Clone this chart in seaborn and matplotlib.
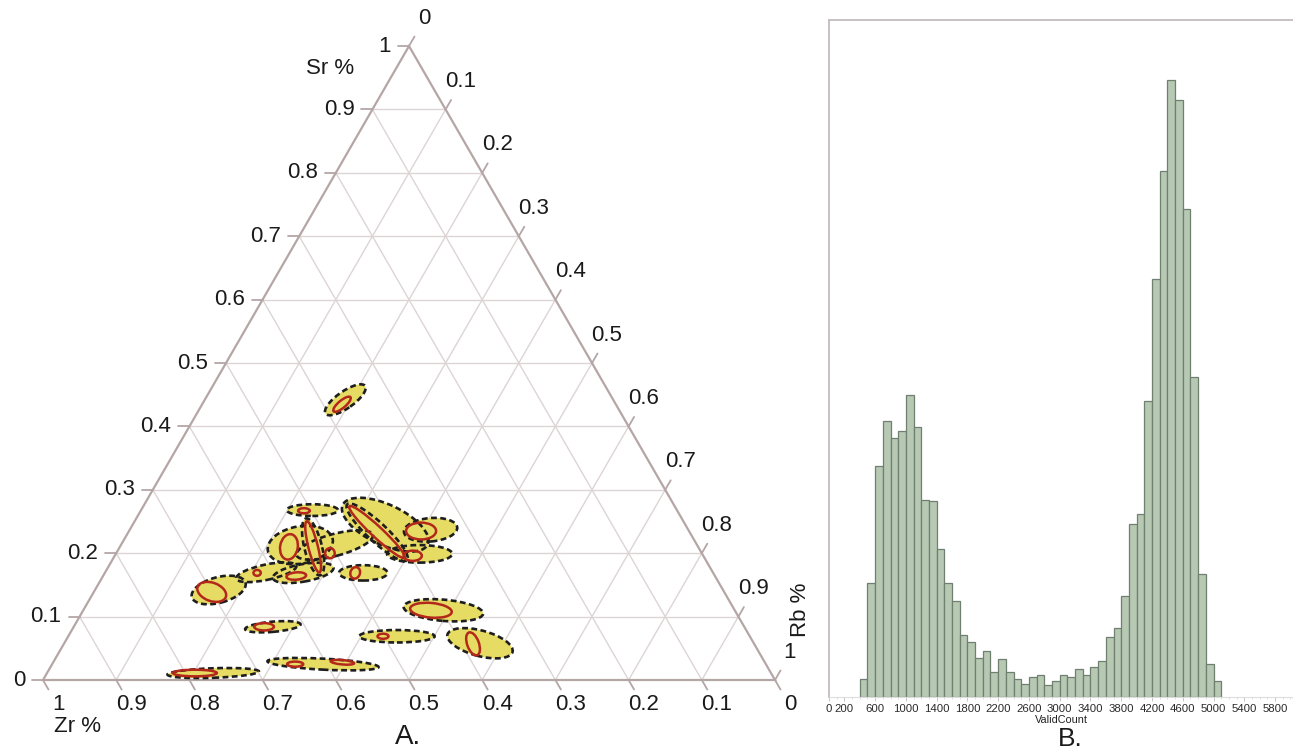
import numpy as np
import pandas as pd
import matplotlib
matplotlib.use("Agg")
import matplotlib.pyplot as plt
from matplotlib.patches import Ellipse, Polygon
import seaborn as sns

# ---------------- data ----------------
# Panel A: confidence ellipses on the Sr-Rb-Zr ternary (centre given as Sr, Zr fractions;
# Rb = 1 - Sr - Zr; width/height in units of the triangle side, angle in degrees)
outer_sr = [0.442, 0.268, 0.213, 0.210, 0.245, 0.233, 0.213, 0.237, 0.199, 0.142, 0.170,
            0.169, 0.169, 0.110, 0.084, 0.069, 0.058, 0.025, 0.011]
outer_zr = [0.366, 0.498, 0.542, 0.526, 0.410, 0.427, 0.495, 0.352, 0.386, 0.689, 0.610,
            0.560, 0.478, 0.398, 0.644, 0.482, 0.374, 0.605, 0.762]
outer_w = [0.066, 0.070, 0.090, 0.080, 0.128, 0.112, 0.108, 0.073, 0.089, 0.076, 0.084,
           0.084, 0.066, 0.109, 0.076, 0.103, 0.092, 0.152, 0.125]
outer_h = [0.023, 0.016, 0.051, 0.024, 0.055, 0.026, 0.030, 0.032, 0.024, 0.035, 0.021,
           0.024, 0.021, 0.029, 0.014, 0.017, 0.035, 0.015, 0.013]
outer_ang = [35, 0, 10, 104, -25, -43, 15, 5, 0, 15, 12, 10, 0, -5, 5, 0, -15, -3, 2]

inner_sr = [0.435, 0.267, 0.210, 0.210, 0.2335, 0.200, 0.235, 0.196, 0.139, 0.169,
            0.164, 0.169, 0.110, 0.084, 0.069, 0.057, 0.025, 0.028, 0.011]
inner_zr = [0.374, 0.510, 0.559, 0.526, 0.427, 0.508, 0.366, 0.397, 0.700, 0.623,
            0.572, 0.489, 0.415, 0.656, 0.501, 0.384, 0.643, 0.577, 0.787]
inner_w = [0.030, 0.016, 0.035, 0.072, 0.103, 0.013, 0.041, 0.025, 0.041, 0.010,
           0.027, 0.016, 0.057, 0.027, 0.015, 0.033, 0.022, 0.032, 0.060]
inner_h = [0.010, 0.007, 0.024, 0.013, 0.015, 0.014, 0.023, 0.014, 0.025, 0.008,
           0.010, 0.013, 0.020, 0.010, 0.007, 0.016, 0.007, 0.006, 0.009]
inner_ang = [40, 0, 80, 104, -43, 0, 0, 0, -20, 0, 5, 70, -5, 0, 0, 110, 0, -5, 0]

tick_vals = [0.0, 0.1, 0.2, 0.3, 0.4, 0.5, 0.6, 0.7, 0.8, 0.9, 1.0]
tick_text = ["0", "0.1", "0.2", "0.3", "0.4", "0.5", "0.6", "0.7", "0.8", "0.9", "1"]

# Panel B: histogram of ValidCount, bins of 100 starting at 400
bin_start = list(range(400, 5100, 100))
bin_count = [29, 185, 375, 448, 419, 431, 489, 437, 320, 317,
             240, 185, 155, 100, 89, 64, 74, 41, 61, 41,
             29, 21, 32, 36, 20, 26, 35, 33, 45, 36,
             48, 59, 97, 112, 164, 281, 297, 480, 677, 853,
             1000, 968, 791, 518, 199, 53, 26]
x_ticks = [0, 200, 600, 1000, 1400, 1800, 2200, 2600, 3000, 3400, 3800, 4200, 4600, 5000, 5400, 5800]

# ---------------- style ----------------
sns.set_style("white")
plt.rcParams["font.family"] = ["Liberation Sans", "DejaVu Sans"]

W, Hpx, DPI = 1293, 750, 100
fig = plt.figure(figsize=(W / DPI, Hpx / DPI), dpi=DPI)

# ---------------- panel A: ternary ----------------
S = 732.0                     # pixels per triangle side
H = np.sqrt(3) / 2
axA = fig.add_axes([0, 0, 800 / W, 1])
axA.set_xlim(-43 / S, 757 / S)
axA.set_ylim(-70 / S, 680 / S)
axA.axis("off")


def to_xy(sr, zr):
    rb = 1 - sr - zr
    return rb + sr / 2, sr * H


grid_col = "#ddd5d5"
edge_col = "#b5a6a6"
for v in tick_vals[1:-1]:
    # constant Sr
    axA.plot([v / 2, 1 - v / 2], [v * H, v * H], color=grid_col, lw=1.0, zorder=1)
    # constant Zr
    axA.plot([1 - v, (1 - v) / 2], [0, (1 - v) * H], color=grid_col, lw=1.0, zorder=1)
    # constant Rb
    axA.plot([v, v + (1 - v) / 2], [0, (1 - v) * H], color=grid_col, lw=1.0, zorder=1)

axA.add_patch(Polygon([[0, 0], [1, 0], [0.5, H]], closed=True, fill=False,
                      edgecolor=edge_col, lw=1.6, zorder=2))

tl = 11 / S
fs_tick = 16
tcol = "#1a1a1a"
for v, t in zip(tick_vals, tick_text):
    # Sr ticks on the left edge
    x0, y0 = v / 2, v * H
    axA.plot([x0, x0 - tl], [y0, y0], color=edge_col, lw=1.3, zorder=2)
    axA.text(x0 - 18 / S, y0, t, ha="right", va="center", fontsize=fs_tick, color=tcol)
    # Zr ticks on the bottom edge (Zr = 1 at the left corner)
    x0, y0 = 1 - v, 0
    axA.plot([x0, x0 + 0.5 * tl], [y0, y0 - H * tl], color=edge_col, lw=1.3, zorder=2)
    axA.text(x0 + 15 / S, -25 / S, t, ha="center", va="center", fontsize=fs_tick, color=tcol)
    # Rb ticks on the right edge (Rb = 1 at the right corner)
    x0, y0 = v + (1 - v) / 2, (1 - v) * H
    axA.plot([x0, x0 + 0.5 * tl], [y0, y0 + H * tl], color=edge_col, lw=1.3, zorder=2)
    axA.text(x0 + 15 / S, y0 + 28 / S, t, ha="center", va="center", fontsize=fs_tick, color=tcol)

axA.text(330 / S - 43 / S, (680 - 68) / S, "Sr %", ha="center", va="center", fontsize=fs_tick, color=tcol)
axA.text(78 / S - 43 / S, (680 - 727) / S, "Zr %", ha="center", va="center", fontsize=fs_tick, color=tcol)
axA.text(800 / S - 43 / S, (680 - 610) / S, "Rb %", ha="center", va="center",
         fontsize=fs_tick, rotation=90, clip_on=False, color=tcol)
axA.text(408 / S - 43 / S, (680 - 737) / S, "A.", ha="center", va="center", fontsize=20, color=tcol)

yellow = "#e6dc64"
# yellow fills first, then dashed outlines, then red inner ellipses
for sr, zr, w, h, a in zip(outer_sr, outer_zr, outer_w, outer_h, outer_ang):
    axA.add_patch(Ellipse(to_xy(sr, zr), w, h, angle=a, facecolor=yellow,
                          edgecolor="none", zorder=3))
for sr, zr, w, h, a in zip(outer_sr, outer_zr, outer_w, outer_h, outer_ang):
    axA.add_patch(Ellipse(to_xy(sr, zr), w, h, angle=a, facecolor="none",
                          edgecolor="#1e1e1e", lw=1.9, linestyle=(0, (2.2, 1.3)), zorder=4))
for sr, zr, w, h, a in zip(inner_sr, inner_zr, inner_w, inner_h, inner_ang):
    axA.add_patch(Ellipse(to_xy(sr, zr), w, h, angle=a, facecolor="none",
                          edgecolor="#b4281c", lw=1.8, zorder=5))

# ---------------- panel B: histogram ----------------
axB = fig.add_axes([829 / W, (Hpx - 697) / Hpx, (W - 829) / W, (697 - 20) / Hpx])
df = pd.DataFrame({"ValidCount": [b + 50 for b in bin_start], "n": bin_count})
sns.histplot(data=df, x="ValidCount", weights="n", binwidth=100, binrange=(400, 5100),
             color="#b7c9b3", edgecolor="#6f7f70", linewidth=0.9, alpha=1.0, ax=axB)
axB.set_xlim(0, (W - 829) / 0.0769)
axB.set_ylim(0, 1097)
axB.set_yticks([])
axB.set_ylabel("")
axB.set_xticks(x_ticks)
axB.set_xticklabels([str(v) for v in x_ticks], fontsize=8.2, color="#2a2a2a")
axB.set_xticks(np.arange(0, 6001, 100), minor=True)
axB.tick_params(axis="x", which="major", length=3, width=0.6, color="#bbbbbb", pad=2, bottom=True)
axB.tick_params(axis="x", which="minor", length=1.5, width=0.5, color="#cccccc", bottom=True)
axB.set_xlabel("ValidCount", fontsize=7.8, labelpad=1, color="#222222")
for side in ["left", "top"]:
    axB.spines[side].set_color("#c4bcbc")
    axB.spines[side].set_linewidth(1.3)
axB.spines["right"].set_visible(False)
axB.spines["bottom"].set_color("#dddddd")
axB.spines["bottom"].set_linewidth(0.8)
fig.text(1070 / W, 1 - 739 / Hpx, "B.", ha="center", va="center", fontsize=19, color=tcol)

fig.savefig("out.png", dpi=DPI)
